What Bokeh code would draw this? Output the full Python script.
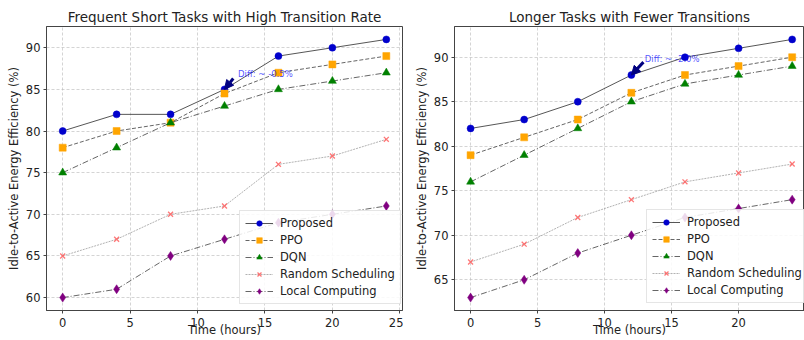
from bokeh.plotting import figure
from bokeh.layouts import row
from bokeh.models import Range1d, FixedTicker, Legend, LegendItem, Arrow, NormalHead, Label
from bokeh.embed import file_html
from bokeh.resources import INLINE

time_h = [0, 4, 8, 12, 16, 20, 24]

# Panel 1: Frequent short tasks
p1_proposed = [80, 82, 82, 85, 89, 90, 91]
p1_ppo = [78, 80, 81, 84.5, 87, 88, 89]
p1_dqn = [75, 78, 81, 83, 85, 86, 87]
p1_random = [65, 67, 70, 71, 76, 77, 79]
p1_local = [60, 61, 65, 67, 69, 70, 71]

# Panel 2: Longer tasks
p2_proposed = [82, 83, 85, 88, 90, 91, 92]
p2_ppo = [79, 81, 83, 86, 88, 89, 90]
p2_dqn = [76, 79, 82, 85, 87, 88, 89]
p2_random = [67, 69, 72, 74, 76, 77, 78]
p2_local = [63, 65, 68, 70, 72, 73, 74]

titles = ["Frequent Short Tasks with High Transition Rate", "Longer Tasks with Fewer Transitions"]
x_label = "Time (hours)"
y_label = "Idle-to-Active Energy Efficiency (%)"
x_ticks = [0, 5, 10, 15, 20, 25]
y_ticks_1 = [60, 65, 70, 75, 80, 85, 90]
y_ticks_2 = [65, 70, 75, 80, 85, 90]

# annotations: point, text position, arrow tail
annot_texts = ["Diff: ~ -0.5%", "Diff: ~ -2.0%"]
annot_point = [(12, 85), (12, 88)]
annot_text_pos = [(13, 86.9), (13, 89.8)]
annot_tail = [(12.65, 86.3), (12.9, 89.45)]

FONT = "DejaVu Sans"

series_style = [
    # name, line color, dash, marker, marker color, size, alpha
    ("Proposed", "#444444", "solid", "circle", "#0000cc", 7, 1.0),
    ("PPO", "#555555", "4 2", "square", "orange", 7, 1.0),
    ("DQN", "#555555", "6 2 1 2", "triangle", "green", 8, 1.0),
    ("Random Scheduling", "#aaaaaa", "2 1", "x", "#ff5555", 7, 0.8),
    ("Local Computing", "#555555", "6 2 1 2", "diamond", "purple", 9, 1.0),
]


def make_panel(title, series, y_start, y_end, y_ticks, x_end, width, mbl, mbr, idx, legend_loc):
    p = figure(width=width, height=340, output_backend="svg", toolbar_location=None,
               x_range=Range1d(-1.2, x_end), y_range=Range1d(y_start, y_end),
               min_border_left=mbl, min_border_right=mbr, min_border_top=26, min_border_bottom=30,
               background_fill_color="white", border_fill_color="white")
    p.title.text = title
    p.title.align = "center"
    p.title.text_font = FONT
    p.title.text_font_size = "13.5px"
    p.title.text_font_style = "normal"
    p.title.text_color = "#222222"
    p.title.standoff = 4
    p.outline_line_color = "#444444"
    p.outline_line_alpha = 1.0

    for ax in (p.xaxis[0], p.yaxis[0]):
        ax.axis_line_color = "#444444"
        ax.major_tick_line_color = "#444444"
        ax.major_tick_out = 3
        ax.major_tick_in = 0
        ax.minor_tick_line_color = None
        ax.major_label_text_font = FONT
        ax.major_label_text_font_size = "11.5px"
        ax.major_label_text_color = "#222222"
        ax.axis_label_text_font = FONT
        ax.axis_label_text_font_size = "11.5px"
        ax.axis_label_text_font_style = "normal"
        ax.axis_label_text_color = "#222222"
        ax.major_label_standoff = 3
    p.xaxis.ticker = FixedTicker(ticks=x_ticks)
    p.yaxis.ticker = FixedTicker(ticks=y_ticks)
    p.xaxis.axis_label = x_label
    p.yaxis.axis_label = y_label
    p.yaxis.axis_label_standoff = 2
    p.xaxis.major_label_standoff = 4
    p.xaxis.axis_label_standoff = -7

    p.grid.grid_line_color = "#bbbbbb"
    p.grid.grid_line_dash = "3 2"
    p.grid.grid_line_alpha = 0.8
    p.grid.grid_line_width = 0.8

    items = []
    for vals, (name, lc, dash, marker, mc, size, alpha) in zip(series, series_style):
        r_line = p.line(time_h, vals, line_color=lc, line_dash=dash, line_width=1.0, line_alpha=0.9)
        if marker == "x":
            r_m = p.scatter(time_h, vals, marker="x", size=size, line_color=mc, line_width=1.3, line_alpha=alpha)
        else:
            r_m = p.scatter(time_h, vals, marker=marker, size=size, fill_color=mc, line_color=mc, line_width=0.5)
        items.append(LegendItem(label=name, renderers=[r_line, r_m]))

    legend = Legend(items=items, location=legend_loc)
    legend.label_text_font = FONT
    legend.label_text_font_size = "11.5px"
    legend.label_text_color = "#222222"
    legend.glyph_width = 28
    legend.glyph_height = 14
    legend.label_height = 14
    legend.spacing = 3
    legend.padding = 5
    legend.margin = 0
    legend.label_standoff = 7
    legend.border_line_color = "#cccccc"
    legend.background_fill_color = "white"
    legend.background_fill_alpha = 0.85
    p.add_layout(legend)

    (px, py) = annot_point[idx]
    (tx, ty) = annot_text_pos[idx]
    (ax_, ay_) = annot_tail[idx]
    p.add_layout(Arrow(end=NormalHead(size=9, fill_color="navy", line_color="navy", line_width=1),
                       x_start=ax_, y_start=ay_, x_end=px, y_end=py,
                       line_color="navy", line_width=3))
    p.add_layout(Label(x=tx, y=ty, text=annot_texts[idx], text_color="blue", text_alpha=0.7,
                       text_font=FONT, text_font_size="8.5px", text_baseline="alphabetic"))
    return p


p1 = make_panel(titles[0], [p1_proposed, p1_ppo, p1_dqn, p1_random, p1_local],
                58.45, 92.55, y_ticks_1, 25.2, 403, 46, 1, 0, (193, 6))
p2 = make_panel(titles[1], [p2_proposed, p2_ppo, p2_dqn, p2_random, p2_local],
                61.55, 93.45, y_ticks_2, 24.92, 401, 51, 0, 1, (192, 7))

layout = row(p1, p2, spacing=0)
open("out.html", "w").write(file_html(layout, INLINE))
